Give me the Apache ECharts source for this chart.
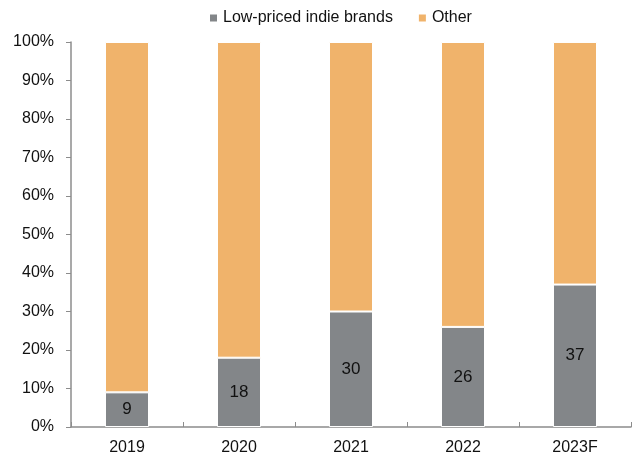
<!DOCTYPE html>
<html>
<head>
<meta charset="utf-8">
<script src="https://cdn.jsdelivr.net/npm/echarts@6/dist/echarts.min.js"></script>
<style>
  html, body { margin: 0; padding: 0; background: #fff; }
  #chart { width: 637px; height: 465px; }
</style>
</head>
<body>
<div id="chart"></div>
<script>
// Share of low-priced indie brands vs. everything else, by year
const years = ['2019', '2020', '2021', '2022', '2023F'];
const indieShare = [9, 18, 30, 26, 37];
const otherShare = indieShare.map(v => 100 - v);
const yTicks = [0, 10, 20, 30, 40, 50, 60, 70, 80, 90, 100];

const font = '"Liberation Sans", Arial, sans-serif';
const fontSize = 16;
const axisColor = '#8c8c8c';

const chart = echarts.init(document.getElementById('chart'), null, { renderer: 'canvas' });
chart.setOption({
  animation: false,
  textStyle: { fontFamily: font },
  legend: {
    top: 5,
    left: 203,
    itemWidth: 9,
    itemHeight: 9,
    itemGap: 24,
    icon: 'rect',
    textStyle: { fontFamily: font, fontSize: fontSize, color: '#111' },
    data: ['Low-priced indie brands', 'Other']
  },
  grid: { left: 71, right: 6, top: 42, bottom: 38, containLabel: false },
  xAxis: {
    type: 'category',
    data: years,
    axisLine: { lineStyle: { color: axisColor, width: 1.5 } },
    axisTick: { show: true, inside: true, length: 5, alignWithLabel: false, lineStyle: { color: axisColor } },
    axisLabel: { fontFamily: font, fontSize: fontSize, color: '#111', margin: 13 }
  },
  yAxis: {
    type: 'value',
    min: yTicks[0],
    max: yTicks[yTicks.length - 1],
    interval: 10,
    splitLine: { show: false },
    axisLine: { show: true, lineStyle: { color: axisColor, width: 1.5 } },
    axisTick: { show: true, length: 5, lineStyle: { color: axisColor } },
    axisLabel: { fontFamily: font, fontSize: fontSize, color: '#111', margin: 17, formatter: v => v + '%' }
  },
  series: [
    {
      name: 'Low-priced indie brands',
      type: 'bar',
      stack: 'share',
      barWidth: 44,
      data: indieShare,
      itemStyle: { color: '#838689', borderColor: '#ffffff', borderWidth: 1 },
      label: {
        show: true,
        position: 'inside',
        fontFamily: font,
        fontSize: 17,
        color: '#111'
      }
    },
    {
      name: 'Other',
      type: 'bar',
      stack: 'share',
      barWidth: 44,
      data: otherShare,
      itemStyle: { color: '#F0B36B', borderColor: '#ffffff', borderWidth: 1 }
    }
  ]
});
</script>
</body>
</html>
